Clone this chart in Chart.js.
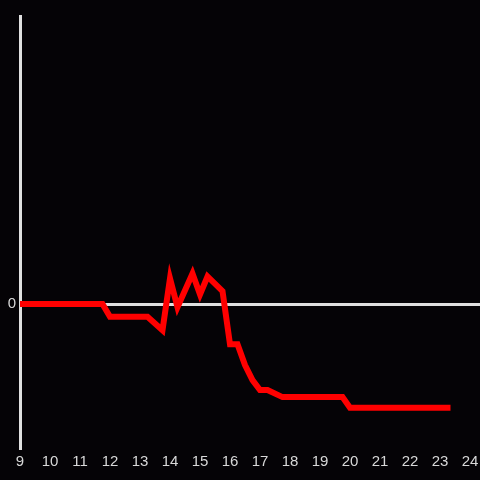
<!DOCTYPE html>
<html>
<head>
<meta charset="utf-8">
<script src="https://cdn.jsdelivr.net/npm/chart.js@4"></script>
<style>
  html, body { margin: 0; padding: 0; background: #050306; }
  #wrap { width: 480px; height: 480px; }
</style>
</head>
<body>
<div id="wrap"><canvas id="myChart"></canvas></div>
<script>
// values
const hours = [9, 11.75, 12, 13.25, 13.75, 14, 14.25, 14.75, 15, 15.25, 15.75, 16, 16.25, 16.5, 16.75, 17, 17.25, 17.75, 19.75, 20, 23.25];
const values = [0, 0, -0.4, -0.4, -0.82, 0.8, -0.1, 0.95, 0.3, 0.86, 0.4, -1.26, -1.26, -1.91, -2.38, -2.69, -2.69, -2.91, -2.91, -3.24, -3.24];
const xTicks = [9, 10, 11, 12, 13, 14, 15, 16, 17, 18, 19, 20, 21, 22, 23, 24];
const yTicks = [0];

const axisColor = '#e0e0e0';
const labelColor = '#d8d8d8';

var ctx = document.getElementById('myChart').getContext('2d');
var myChart = new Chart(ctx, {
    type: 'line',
    data: {
        datasets: [{
            data: hours.map((h, i) => ({ x: h, y: values[i] })),
            borderColor: '#ff0000',
            borderWidth: 6,
            borderCapStyle: 'square',
            borderJoinStyle: 'miter',
            pointRadius: 0,
            tension: 0,
            fill: false
        }]
    },
    options: {
        responsive: true,
        maintainAspectRatio: false,
        animation: false,
        layout: { padding: { top: 16, right: 0, left: 0, bottom: 0 } },
        plugins: {
            legend: { display: false },
            tooltip: { enabled: false }
        },
        scales: {
            x: {
                type: 'linear',
                min: 9,
                max: 24.333,
                afterBuildTicks: axis => { axis.ticks = xTicks.map(v => ({ value: v })); },
                afterFit: axis => {
                    axis.height = 32;
                    axis.paddingLeft = 0;
                    axis.paddingRight = 0;
                },
                grid: { display: false, drawTicks: false },
                border: { display: false },
                ticks: {
                    autoSkip: false,
                    maxRotation: 0,
                    padding: 5,
                    color: labelColor,
                    font: { size: 15 }
                }
            },
            y: {
                min: -4.5,
                max: 9,
                afterBuildTicks: axis => { axis.ticks = yTicks.map(v => ({ value: v })); },
                afterFit: axis => { axis.width = 20; },
                grid: {
                    drawTicks: false,
                    color: c => c.tick && c.tick.value === 0 ? axisColor : 'rgba(0,0,0,0)',
                    lineWidth: 3
                },
                border: { display: true, color: axisColor, width: 3 },
                ticks: {
                    padding: 4,
                    color: labelColor,
                    font: { size: 15 }
                }
            }
        }
    }
});
</script>
</body>
</html>
